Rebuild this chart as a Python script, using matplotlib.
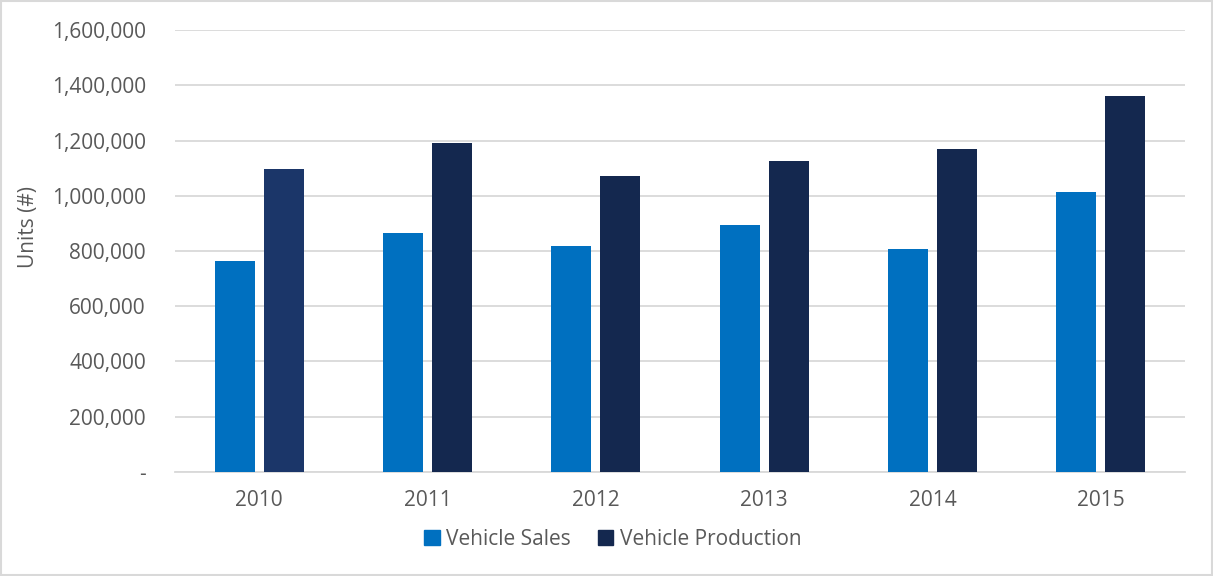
import numpy as np
import matplotlib.pyplot as plt
from matplotlib.ticker import FuncFormatter
from matplotlib.patches import Rectangle

# data
years = ["2010", "2011", "2012", "2013", "2014", "2015"]
sales = [762000, 866000, 818000, 894000, 807000, 1013000]
production = [1096000, 1191000, 1073000, 1127000, 1171000, 1362000]

SALES_COL = "#0070C0"
PROD_COL = "#14284F"
PROD_COL_2010 = "#1B3669"
TXT = "#595959"

plt.rcParams['font.family'] = ['Open Sans', 'DejaVu Sans']

fig = plt.figure(figsize=(12.13, 5.76), dpi=100)
ax = fig.add_axes([0.1443, 0.1806, 0.8326, 0.7673])

x = np.arange(len(years))
w = 0.238
off = 0.146
ax.bar(x - off, sales, w, color=SALES_COL, label="Vehicle Sales", zorder=3)
pcols = [PROD_COL_2010] + [PROD_COL] * (len(years) - 1)
ax.bar(x + off, production, w, color=pcols, label="Vehicle Production", zorder=3)

ax.set_xlim(-0.5, len(years) - 0.5)
ax.set_ylim(0, 1600000)
ax.set_yticks(np.arange(0, 1600001, 200000))
ax.yaxis.set_major_formatter(FuncFormatter(lambda v, p: "-" if v == 0 else f"{int(v):,}"))
ax.set_xticks(x)
ax.set_xticklabels(years)
ax.grid(axis="y", color="#D9D9D9", linewidth=1.3, zorder=0)
for s in ["top", "right", "left"]:
    ax.spines[s].set_visible(False)
ax.spines["bottom"].set_color("#D9D9D9")
ax.spines["bottom"].set_linewidth(1.3)
ax.tick_params(axis="both", length=0, labelsize=15, colors=TXT)
ax.tick_params(axis="y", pad=21)
ax.tick_params(axis="x", pad=13)
ax.set_ylabel("Units (#)", fontsize=15, color=TXT)
ax.yaxis.set_label_coords(-0.135, 0.555)

h1 = Rectangle((0, 0), 1, 1, color=SALES_COL)
h2 = Rectangle((0, 0), 1, 1, color=PROD_COL)
fig.legend([h1, h2], ["Vehicle Sales", "Vehicle Production"], loc="center",
           bbox_to_anchor=(0.505, 0.064), ncol=2, frameon=False, fontsize=15,
           labelcolor=TXT, handlelength=0.75, handleheight=0.75, handletextpad=0.3,
           columnspacing=1.3)

fig.patches.append(Rectangle((0.001, 0.001), 0.998, 0.998, transform=fig.transFigure,
                             fill=False, edgecolor="#D9D9D9", linewidth=1.5))

fig.savefig("out.png", dpi=100)
